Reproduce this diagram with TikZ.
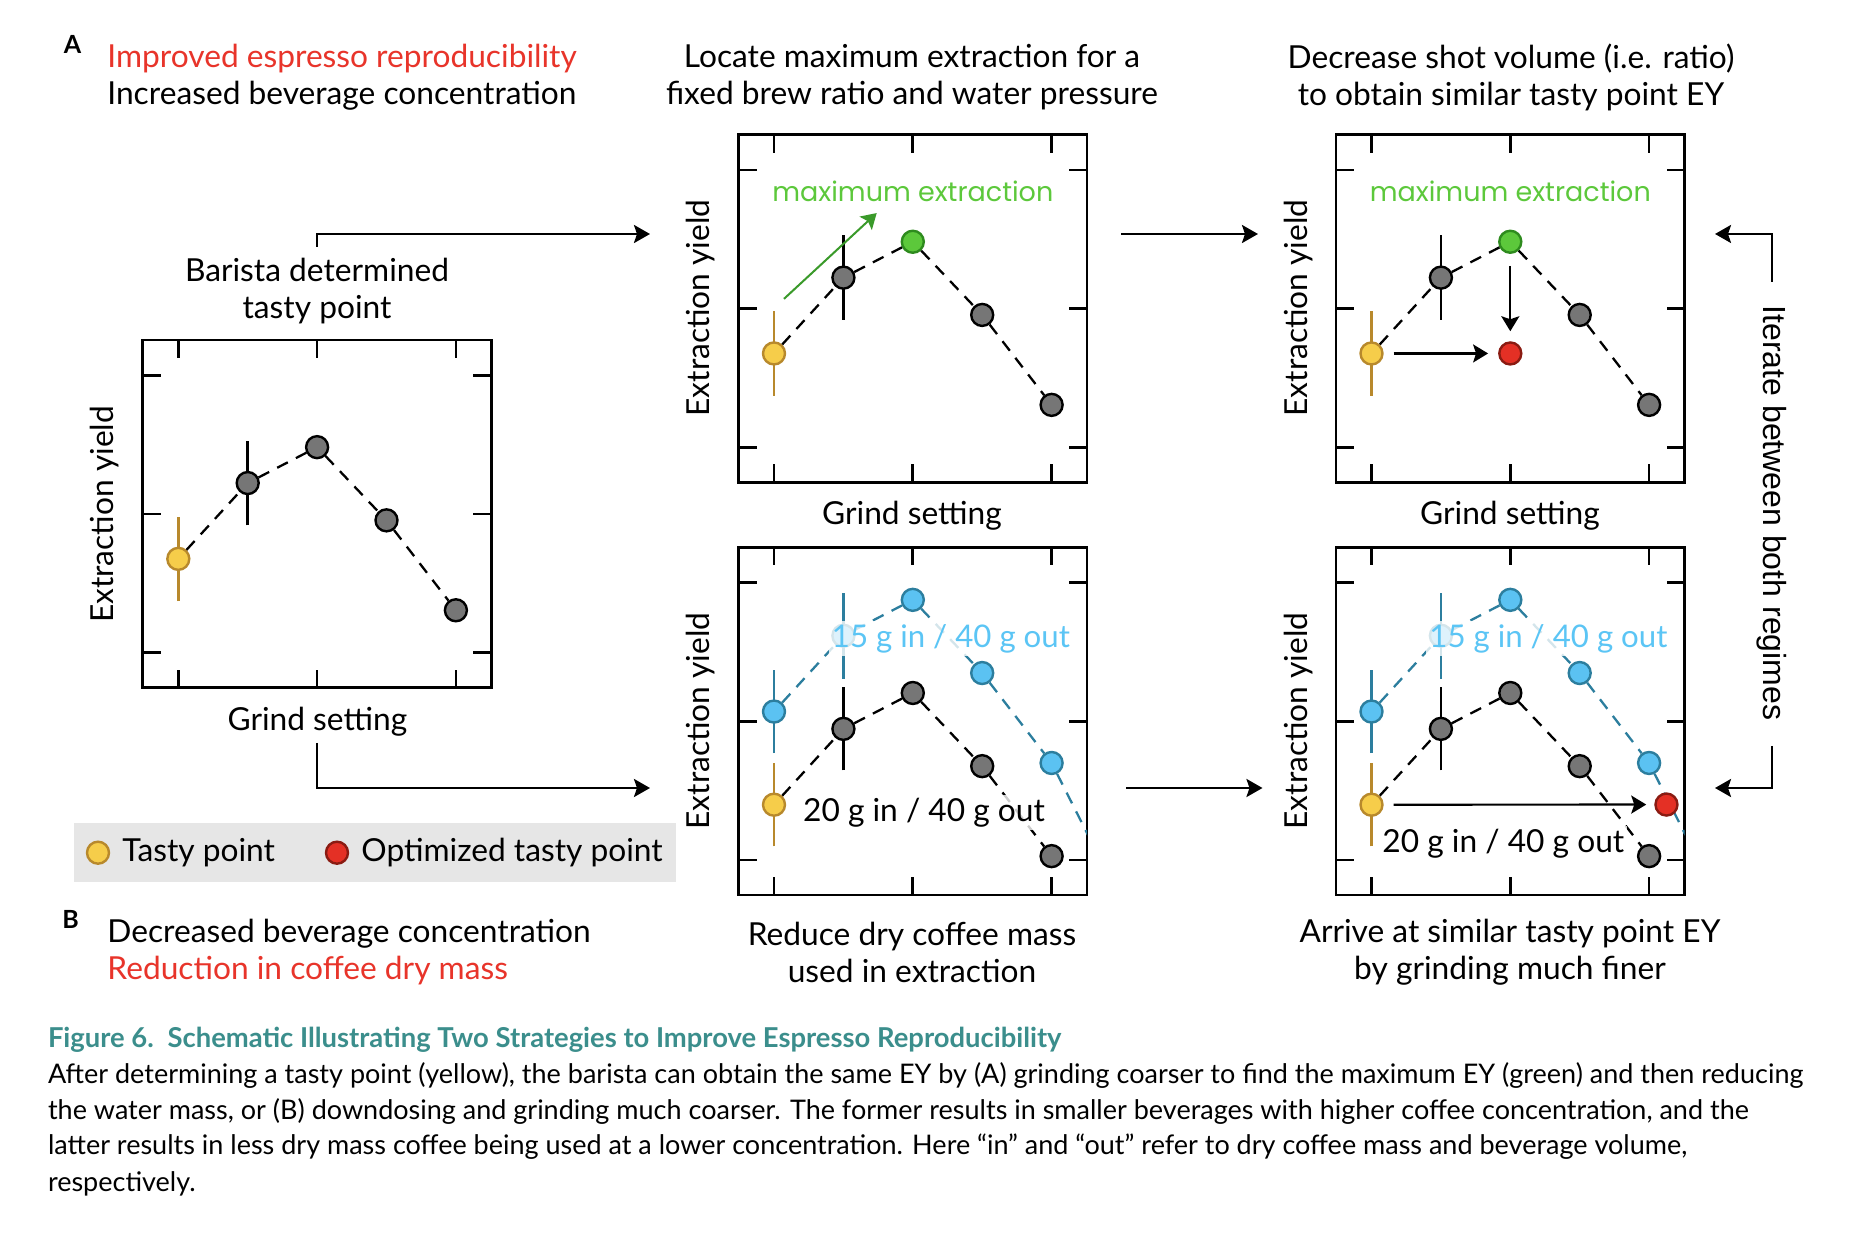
\documentclass[tikz,border=0pt]{standalone}
\usepackage{fontspec}
\setmainfont{Lato}
\newfontfamily\geofont{Poppins}
\newfontfamily\helvfont{Liberation Sans}
\usetikzlibrary{arrows.meta}
\definecolor{tred}{HTML}{E8342A}
\definecolor{mgreen}{HTML}{5CC83B}
\definecolor{dgreen}{HTML}{3A9A2A}
\definecolor{gdraw}{HTML}{2E8B1E}
\definecolor{yfill}{HTML}{F6CD4A}
\definecolor{ydraw}{HTML}{B8892C}
\definecolor{gfill}{HTML}{767676}
\definecolor{bfill}{HTML}{5BC2F2}
\definecolor{bdraw}{HTML}{2C7E9E}
\definecolor{btext}{HTML}{5BC5F5}
\definecolor{rfill}{HTML}{E43025}
\definecolor{rdraw}{HTML}{8A1B12}
\definecolor{capteal}{HTML}{3B8E8C}
\definecolor{legbg}{HTML}{E6E6E6}
\newcommand\lblfont{\fontsize{15.85}{18.5}\selectfont}
\newcommand\capbody{\fontsize{13.5}{18}\selectfont}
\newcommand\captitle{\fontsize{13.7}{18}\selectfont\bfseries}
\newcommand\myframe{%
  \draw[frame] (-0.256,-0.252) rectangle (2.256,2.256);
  \foreach \t in {0,1,2} {
    \draw[frame] (\t,-0.252) -- ++(0,0.13);
    \draw[frame] (\t,2.256) -- ++(0,-0.13);
    \draw[frame] (-0.256,\t) -- ++(0.13,0);
    \draw[frame] (2.256,\t) -- ++(-0.13,0);
  }%
}
\newcommand\curveA[2]{%
  \draw[ybar] (0,0.372) -- (0,0.982);
  \draw[kbar] (0.5,0.919) -- (0.5,1.529);
  \node[ypt] (#1a) at (0,0.677) {};
  \node[gpt] (#1b) at (0.5,1.224) {};
  \node[#2] (#1c) at (1,1.483) {};
  \node[gpt] (#1d) at (1.5,0.955) {};
  \node[gpt] (#1e) at (2,0.306) {};
  \draw[kdash] (#1a) -- (#1b) -- (#1c) -- (#1d) -- (#1e);
}
\newcommand\curveB[1]{%
  \draw[bbar] (0,0.771) -- (0,1.371);
  \draw[bbar] (0.5,1.308) -- (0.5,1.928);
  \node[bpt] (#1p) at (0,1.071) {};
  \node[bpt] (#1q) at (0.5,1.618) {};
  \node[bpt] (#1r) at (1,1.877) {};
  \node[bpt] (#1s) at (1.5,1.349) {};
  \node[bpt] (#1t) at (2,0.70) {};
  \coordinate (#1u) at (2.5,-0.29);
  \draw[bdash] (#1p) -- (#1q) -- (#1r) -- (#1s) -- (#1t);
  \begin{scope}
    \clip (-0.256,-0.252) rectangle (2.256,2.256);
    \draw[bdash] (#1t) -- (#1u);
  \end{scope}
  \draw[ybar] (0,0.099) -- (0,0.699);
  \draw[kbar] (0.5,0.646) -- (0.5,1.246);
  \node[ypt] (#1a) at (0,0.399) {};
  \node[gpt] (#1b) at (0.5,0.946) {};
  \node[gpt] (#1c) at (1,1.205) {};
  \node[gpt] (#1d) at (1.5,0.677) {};
  \node[gpt] (#1e) at (2,0.028) {};
  \draw[kdash] (#1a) -- (#1b) -- (#1c) -- (#1d) -- (#1e);
}
\begin{document}
\begin{tikzpicture}[x=0.5pt,y=-0.5pt,
  every node/.style={font=\lblfont, inner sep=0pt},
  frame/.style={line width=1.35pt},
  pt/.style={circle, minimum size=11pt, inner sep=0pt, line width=1.2pt},
  gpt/.style={pt, fill=gfill, draw=black},
  ypt/.style={pt, fill=yfill, draw=ydraw},
  grpt/.style={pt, fill=mgreen, draw=gdraw},
  bpt/.style={pt, fill=bfill, draw=bdraw},
  rpt/.style={pt, fill=rfill, draw=rdraw},
  kdash/.style={line width=1.15pt, dash pattern=on 6pt off 4.5pt},
  bdash/.style={kdash, draw=bdraw},
  kbar/.style={line width=1.3pt},
  ybar/.style={kbar, draw=ydraw},
  bbar/.style={kbar, draw=bdraw},
  arr/.style={line width=1.3pt, -{Stealth[length=8pt,width=9pt,inset=1.5pt]}},
  sarr/.style={line width=1.1pt, -{Stealth[length=7.5pt,width=9pt,inset=1.5pt]}},
  halo/.style={fill=white, fill opacity=0.8, text opacity=1, inner sep=1.5pt},
  ylab/.style={rotate=90},
]
\useasboundingbox (0,0) rectangle (1864,1234);
\fill[white] (0,0) rectangle (1864,1234);

% ---------- headings ----------
\node[font=\fontsize{12.5}{14}\selectfont\bfseries] (lA) at (72.5,44) {A};
\node[anchor=west, align=left] (hA) at (107,77) {{\color{tred}Improved espresso reproducibility}\\Increased beverage concentration};
\node[align=center] (hM) at (912,77) {Locate maximum extraction for a\\fixed brew ratio and water pressure};
\node[align=center] (hR) at (1511,77) {Decrease shot volume (i.e. ratio)\\to obtain similar tasty point EY};
\node[align=center] (bar) at (317,291) {Barista determined\\tasty point};

\node[font=\fontsize{12.5}{14}\selectfont\bfseries] (lB) at (70.5,919) {B};
\node[anchor=west, align=left] (hB) at (107,952) {Decreased beverage concentration\\{\color{tred}Reduction in coffee dry mass}};
\node[align=center] (cM) at (912,952) {Reduce dry coffee mass\\used in extraction};
\node[align=center] (cR) at (1510,952) {Arrive at similar tasty point EY\\by grinding much finer};

% axis labels
\node (gL) at (317.4,721.5) {Grind setting};
\node[ylab] (yL) at (104.6,514.5) {Extraction yield};
\node (gM) at (912,516) {Grind setting};
\node[ylab] (yM) at (701,308) {Extraction yield};
\node (gR) at (1510,516) {Grind setting};
\node[ylab] (yR) at (1299,308) {Extraction yield};
\node[ylab] (yM2) at (701,721) {Extraction yield};
\node[ylab] (yR2) at (1299,721) {Extraction yield};

% ---------- left plot ----------
\begin{scope}[shift={(178.3,652.7)}, x=69.4pt, y=69.3pt]
  \myframe
  \curveA{L}{gpt}
\end{scope}

% ---------- middle top ----------
\begin{scope}[shift={(774,447.3)}, x=69.4pt, y=69.3pt]
  \myframe
  \curveA{M}{grpt}
  \coordinate (gs) at (0.072,1.071);
  \coordinate (ge) at (0.74,1.69);
  \draw[sarr, draw=dgreen, line width=1pt] (gs) -- (ge);
  \node[font=\geofont\fontsize{13.5}{15}\selectfont, text=mgreen] (mxM) at (1,1.846) {maximum extraction};
\end{scope}

% ---------- right top ----------
\begin{scope}[shift={(1371.5,447.3)}, x=69.4pt, y=69.3pt]
  \myframe
  \curveA{R}{grpt}
  \node[rpt] (Rx) at (1,0.677) {};
  \draw[sarr, shorten <=6pt, shorten >=5pt] (Rc) -- (Rx);
  \draw[sarr, shorten <=5pt, shorten >=5pt] (Ra) -- (Rx);
  \node[font=\geofont\fontsize{13.5}{15}\selectfont, text=mgreen] (mxR) at (1,1.846) {maximum extraction};
\end{scope}

% ---------- middle bottom ----------
\begin{scope}[shift={(774,860)}, x=69.4pt, y=69.3pt]
  \myframe
  \curveB{N}
  \node[halo, text=btext, font=\fontsize{15.6}{18}\selectfont] (t15N) at (1.275,1.596) {15 g in / 40 g out};
  \node[halo] (t20N) at (1.081,0.34) {20 g in / 40 g out};
\end{scope}

% ---------- right bottom ----------
\begin{scope}[shift={(1371.5,860)}, x=69.4pt, y=69.3pt]
  \myframe
  \curveB{S}
  \node[rpt] (Sx) at (2.125,0.40) {};
  \draw[sarr, shorten <=5pt, shorten >=4pt] (Sa) -- (Sx);
  \node[halo, text=btext, font=\fontsize{15.6}{18}\selectfont] (t15S) at (1.275,1.596) {15 g in / 40 g out};
  \node[halo] (t20S) at (0.95,0.12) {20 g in / 40 g out};
\end{scope}

% ---------- connectors ----------
\coordinate (a1s) at (317,247);
\coordinate (a1e) at (650,234);
\draw[arr] (a1s) |- (a1e);
\coordinate (a2s) at (317,743);
\coordinate (a2e) at (650,788);
\draw[arr] (a2s) |- (a2e);
\coordinate (a3s) at (1121,234);
\coordinate (a3e) at (1258,234);
\draw[arr] (a3s) -- (a3e);
\coordinate (a4s) at (1126,788);
\coordinate (a4e) at (1262.5,788);
\draw[arr] (a4s) -- (a4e);
\coordinate (a5s) at (1772,282);
\coordinate (a5e) at (1715,234);
\draw[arr] (a5s) |- (a5e);
\coordinate (a6s) at (1772,746);
\coordinate (a6e) at (1715,788);
\draw[arr] (a6s) |- (a6e);
\node[rotate=-90, font=\helvfont\fontsize{16}{18}\selectfont] (iter) at (1772,513) {Iterate between both regimes};

% ---------- legend ----------
\fill[legbg] (73.5,823) rectangle (676,881.7);
\node[ypt] (legy) at (98,852.7) {};
\node[anchor=west] (legyt) at (122,852.7) {Tasty point};
\node[rpt] (legr) at (337,852.7) {};
\node[anchor=west] (legrt) at (361,852.7) {Optimized tasty point};

% ---------- caption ----------
\node[anchor=base west, text=capteal, font=\captitle] (ct) at (47.6,1047) {Figure 6.\enspace Schematic Illustrating Two Strategies to Improve Espresso Reproducibility};
\node[anchor=base west, font=\capbody] (c1) at (47.6,1083.5) {After determining a tasty point (yellow), the barista can obtain the same EY by (A) grinding coarser to find the maximum EY (green) and then reducing};
\node[anchor=base west, font=\capbody] (c2) at (47.6,1119) {the water mass, or (B) downdosing and grinding much coarser. The former results in smaller beverages with higher coffee concentration, and the};
\node[anchor=base west, font=\capbody] (c3) at (47.6,1154.5) {latter results in less dry mass coffee being used at a lower concentration. Here “in” and “out” refer to dry coffee mass and beverage volume,};
\node[anchor=base west, font=\capbody] (c4) at (47.6,1191) {respectively.};
\end{tikzpicture}
\end{document}
